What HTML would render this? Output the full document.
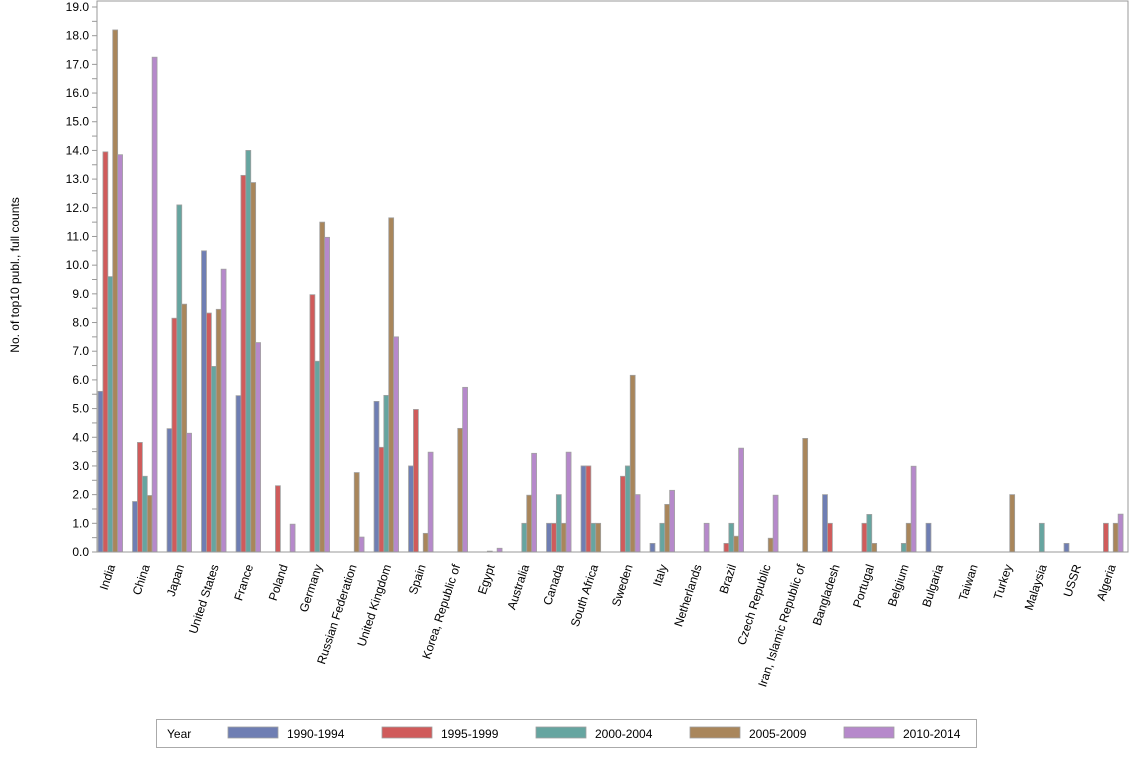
<!DOCTYPE html>
<html><head><meta charset="utf-8"><style>
body{margin:0;background:#fff;font-family:"Liberation Sans",Arial,sans-serif;}
svg text{font-family:"Liberation Sans",Arial,sans-serif;fill:#000;}
</style></head><body>
<svg id="chart" width="1134" height="756" viewBox="0 0 1134 756" xmlns="http://www.w3.org/2000/svg">
<rect x="0" y="0" width="1134" height="756" fill="#fff"/>
<g id="bars"></g>
<g id="axes"></g>
<g id="legend"></g>
</svg>
<script>
const categories=["India","China","Japan","United States","France","Poland","Germany","Russian Federation","United Kingdom","Spain","Korea, Republic of","Egypt","Australia","Canada","South Africa","Sweden","Italy","Netherlands","Brazil","Czech Republic","Iran, Islamic Republic of","Bangladesh","Portugal","Belgium","Bulgaria","Taiwan","Turkey","Malaysia","USSR","Algeria"];
const seriesNames=["1990-1994","1995-1999","2000-2004","2005-2009","2010-2014"];
const s1990=[5.6,1.76,4.3,10.5,5.45,0,0,0,5.25,3,0,0,0,1,3,0,0.3,0,0,0,0,2,0,0,1,0,0,0,0.3,0];
const s1995=[13.95,3.82,8.15,8.33,13.13,2.31,8.97,0,3.65,4.97,0,0,0,1,3,2.64,0,0,0.3,0,0,1,1,0,0,0,0,0,0,1];
const s2000=[9.6,2.64,12.1,6.47,14,0,6.65,0,5.46,0,0,0.03,1,2,1,3,1,0,1,0,0,0,1.31,0.3,0,0,0,1,0,0];
const s2005=[18.2,1.97,8.64,8.46,12.88,0,11.5,2.77,11.65,0.65,4.31,0,1.98,1,1,6.16,1.66,0,0.55,0.48,3.96,0,0.3,1,0,0,2,0,0,1];
const s2010=[13.85,17.25,4.14,9.86,7.3,0.97,10.97,0.52,7.5,3.48,5.74,0.13,3.44,3.48,0,2,2.15,1,3.62,1.98,0,0,0,2.99,0,0,0,0,0,1.32];
const yTicks=[0,1,2,3,4,5,6,7,8,9,10,11,12,13,14,15,16,17,18,19];
const series=[s1990,s1995,s2000,s2005,s2010];
const colors=["#6f7eb3","#d05b5b","#66a5a0","#a9865b","#b689cb"];
const NS="http://www.w3.org/2000/svg";
const X0=97,X1=1128,Y0=552,Y1=7,YMAX=19;
const yS=v=>Y0-(v/YMAX)*(Y0-Y1);
const step=34.5;
const xC=i=>110.3+step*i;
const bw=4.9;
function mk(t,a,p){const e=document.createElementNS(NS,t);for(const k in a)e.setAttribute(k,a[k]);p.appendChild(e);return e;}
const gb=document.getElementById('bars'),ga=document.getElementById('axes'),gl=document.getElementById('legend');
const fr=mk('rect',{x:X0,y:1,width:X1-X0,height:Y0-1,fill:'none',stroke:'#999','stroke-width':1},ga);


categories.forEach((c,i)=>{
  series.forEach((s,k)=>{
    const v=s[i]; if(!v) return;
    const x=xC(i)-bw*2.5+k*bw;
    const r=mk('rect',{x:x,y:yS(v),width:bw,height:Y0-yS(v),fill:colors[k],stroke:'#a0a0a0','stroke-width':0.8},gb);
    
    
  });
  const t=mk('text',{x:0,y:0,'font-size':12,'text-anchor':'end',transform:`translate(${xC(i)+5},${Y0+14}) rotate(-72)`},ga);
  t.textContent=c;
  
  
});
mk('line',{x1:X0,y1:Y0,x2:X0,y2:1,stroke:'#999'},ga);
mk('line',{x1:X0,y1:Y0,x2:X1,y2:Y0,stroke:'#999'},ga);
for(let v=0;v<=YMAX;v+=0.5){mk('line',{x1:X0-5,x2:X0,y1:yS(v),y2:yS(v),stroke:'#999'},ga);}
yTicks.forEach(v=>{
  const t=mk('text',{x:X0-8,y:yS(v)+4,'font-size':12,'text-anchor':'end'},ga);
  t.textContent=v.toFixed(1);
  
  
});
const yt=mk('text',{x:0,y:0,'font-size':12,'text-anchor':'middle',transform:'translate(19,275) rotate(-90)'},ga);
yt.textContent='No. of top10 publ., full counts';


const lb=mk('rect',{x:156.5,y:719.5,width:820,height:28,fill:'#fff',stroke:'#aaa'},gl);


const ly=mk('text',{x:167,y:738,'font-size':12},gl);
ly.textContent='Year';


seriesNames.forEach((n,k)=>{
  const x=228+k*154;
  const sw=mk('rect',{x:x,y:727,width:50,height:11,fill:colors[k],stroke:'#a0a0a0','stroke-width':0.8},gl);
  
  
  const t=mk('text',{x:x+59,y:738,'font-size':12},gl);
  t.textContent=n;
  
  
});
</script>
</body></html>
